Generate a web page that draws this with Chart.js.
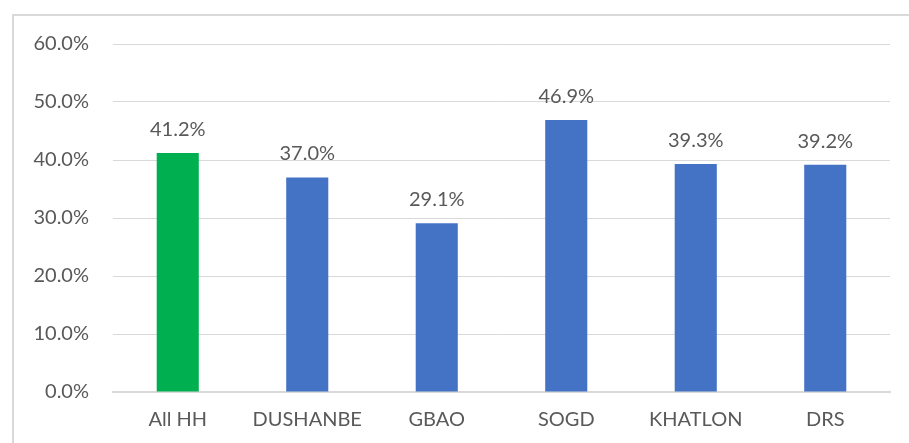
<!DOCTYPE html>
<html>
<head>
<meta charset="utf-8">
<script src="https://cdn.jsdelivr.net/npm/chart.js@4"></script>
<style>
  html, body { margin: 0; padding: 0; background: #fff; overflow: hidden; }
  #frame { position: absolute; left: 12px; top: 14px; width: 1000px; height: 1000px; border: 2px solid #d9d9d9; }
  #wrap { position: absolute; left: 0; top: 0; width: 909px; height: 443px; }
</style>
</head>
<body>
<div id="frame"></div>
<div id="wrap"><canvas id="chart" width="909" height="443"></canvas></div>
<script>
const categories = ['All HH', 'DUSHANBE', 'GBAO', 'SOGD', 'KHATLON', 'DRS'];
const values = [41.2, 37.0, 29.1, 46.9, 39.3, 39.2];
const barColors = ['#00B050', '#4472C4', '#4472C4', '#4472C4', '#4472C4', '#4472C4'];

const textColor = '#595959';
const fontFamily = 'Lato, "Open Sans", sans-serif';
const fontSize = 20;

// value labels above bars
const valueLabels = {
  id: 'valueLabels',
  afterDatasetsDraw(chart) {
    const ctx = chart.ctx;
    const meta = chart.getDatasetMeta(0);
    ctx.save();
    ctx.font = fontSize + 'px ' + fontFamily;
    ctx.fillStyle = textColor;
    ctx.textAlign = 'center';
    ctx.textBaseline = 'alphabetic';
    meta.data.forEach((bar, i) => {
      ctx.fillText(values[i].toFixed(1) + '%', bar.x, bar.y - 17);
    });
    ctx.restore();
  }
};

new Chart(document.getElementById('chart'), {
  type: 'bar',
  data: {
    labels: categories,
    datasets: [{
      data: values,
      backgroundColor: barColors,
      categoryPercentage: 1,
      barPercentage: 0.325
    }]
  },
  options: {
    responsive: false,
    animation: false,
    layout: { padding: { top: 44, right: 19, left: 0, bottom: 0 } },
    plugins: { legend: { display: false }, tooltip: { enabled: false } },
    scales: {
      x: {
        grid: { display: false, drawTicks: false },
        border: { display: true, color: '#d9d9d9', width: 2 },
        ticks: { color: textColor, font: { family: fontFamily, size: fontSize }, padding: 16 },
        afterFit(scale) { scale.height = 51; }
      },
      y: {
        min: 0, max: 60,
        ticks: {
          stepSize: 10,
          color: textColor,
          font: { family: fontFamily, size: fontSize },
          padding: 24,
          callback: v => v.toFixed(1) + '%'
        },
        grid: { color: '#d9d9d9', lineWidth: 1, drawTicks: false },
        border: { display: false },
        afterFit(scale) { scale.width = 113; }
      }
    }
  },
  plugins: [valueLabels]
});
</script>
</body>
</html>
